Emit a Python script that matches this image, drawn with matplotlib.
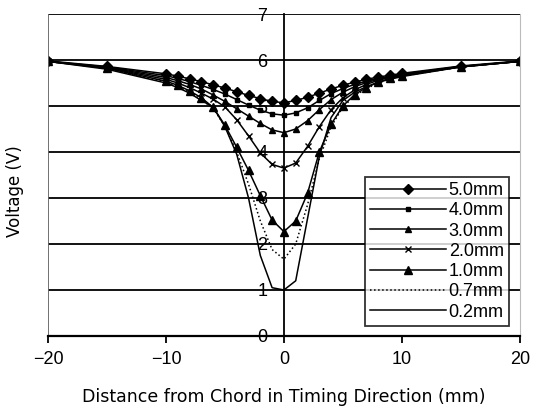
import matplotlib
matplotlib.use("Agg")
import matplotlib.pyplot as plt

plt.rcParams['font.family'] = ['Liberation Sans', 'DejaVu Sans']

# distance from chord (mm)
dist = [-20, -15, -10, -9, -8, -7, -6, -5, -4, -3, -2, -1, 0,
        1, 2, 3, 4, 5, 6, 7, 8, 9, 10, 15, 20]

v_50 = [5.98, 5.86, 5.70, 5.65, 5.59, 5.53, 5.46, 5.39, 5.31, 5.23, 5.16, 5.10, 5.07,
        5.12, 5.19, 5.28, 5.37, 5.45, 5.52, 5.58, 5.63, 5.67, 5.71, 5.87, 5.98]
v_40 = [5.97, 5.85, 5.66, 5.60, 5.53, 5.45, 5.36, 5.26, 5.14, 5.02, 4.91, 4.83, 4.80,
        4.85, 4.96, 5.12, 5.27, 5.38, 5.47, 5.54, 5.60, 5.65, 5.69, 5.86, 5.97]
v_30 = [5.97, 5.84, 5.62, 5.55, 5.47, 5.37, 5.24, 5.10, 4.94, 4.78, 4.62, 4.48, 4.42,
        4.50, 4.68, 4.92, 5.14, 5.30, 5.42, 5.51, 5.58, 5.64, 5.68, 5.86, 5.97]
v_20 = [5.97, 5.83, 5.58, 5.50, 5.40, 5.28, 5.15, 4.98, 4.70, 4.35, 3.98, 3.73, 3.65,
        3.76, 4.12, 4.55, 4.92, 5.18, 5.35, 5.47, 5.56, 5.62, 5.67, 5.85, 5.97]
v_10 = [5.97, 5.82, 5.54, 5.45, 5.33, 5.18, 4.97, 4.58, 4.10, 3.60, 3.05, 2.52, 2.27,
        2.50, 3.10, 4.00, 4.60, 5.00, 5.25, 5.40, 5.52, 5.60, 5.66, 5.85, 5.97]
v_07 = [5.97, 5.82, 5.52, 5.42, 5.30, 5.14, 4.95, 4.56, 4.00, 3.30, 2.50, 1.88, 1.67,
        2.00, 2.85, 3.85, 4.55, 4.98, 5.22, 5.38, 5.50, 5.59, 5.65, 5.85, 5.97]
v_02 = [5.97, 5.80, 5.50, 5.40, 5.28, 5.12, 4.98, 4.55, 3.95, 3.00, 1.75, 1.05, 1.00,
        1.20, 2.55, 3.90, 4.75, 5.12, 5.30, 5.42, 5.52, 5.58, 5.64, 5.85, 5.97]

series = [
    ('5.0mm', v_50, dict(marker='D', markersize=5, linestyle='-')),
    ('4.0mm', v_40, dict(marker='s', markersize=3.5, linestyle='-')),
    ('3.0mm', v_30, dict(marker='^', markersize=4, linestyle='-')),
    ('2.0mm', v_20, dict(marker='x', markersize=4, linestyle='-')),
    ('1.0mm', v_10, dict(marker='^', markersize=5.5, linestyle='-')),
    ('0.7mm', v_07, dict(marker=None, linestyle=':')),
    ('0.2mm', v_02, dict(marker=None, linestyle='-')),
]

fig = plt.figure(figsize=(5.37, 4.12), dpi=100)
ax = fig.add_axes([0.0894, 0.1845, 0.8786, 0.7815])

for label, vals, style in series:
    ax.plot(dist, vals, color='black', linewidth=1.1, label=label,
            markerfacecolor='black', markeredgecolor='black', **style)

ax.set_xlim(-20, 20)
ax.set_ylim(0, 7)
ax.set_xticks([-20, -10, 0, 10, 20])
ax.set_yticks(range(0, 8))
ax.yaxis.grid(True, color='black', linewidth=1.3)

ax.spines['left'].set_position(('data', 0))
ax.spines['left'].set_linewidth(1.3)
ax.spines['bottom'].set_linewidth(1.6)
ax.spines['top'].set_visible(False)
ax.spines['right'].set_color('#bbbbbb')
ax.axvline(-20, color='#666666', linewidth=1.3)

ax.tick_params(axis='x', direction='out', length=5, width=1.3, labelsize=13, pad=6)
ax.tick_params(axis='y', direction='out', length=0, labelsize=13, pad=12)

ax.set_xlabel('Distance from Chord in Timing Direction (mm)', fontsize=12.5,
              labelpad=14, family=['DejaVu Sans'])
ax.set_ylabel('Voltage (V)', fontsize=12, family=['DejaVu Sans'])
ax.yaxis.set_label_coords(-0.05, 0.45)

leg = ax.legend(loc='lower right', bbox_to_anchor=(0.985, 0.02), frameon=True,
                fancybox=False, edgecolor='black', fontsize=13, handlelength=4.2,
                labelspacing=0.18, borderpad=0.3, handletextpad=0.15,
                borderaxespad=0.2)
leg.get_frame().set_linewidth(1.3)

fig.savefig('out.png', dpi=100)
